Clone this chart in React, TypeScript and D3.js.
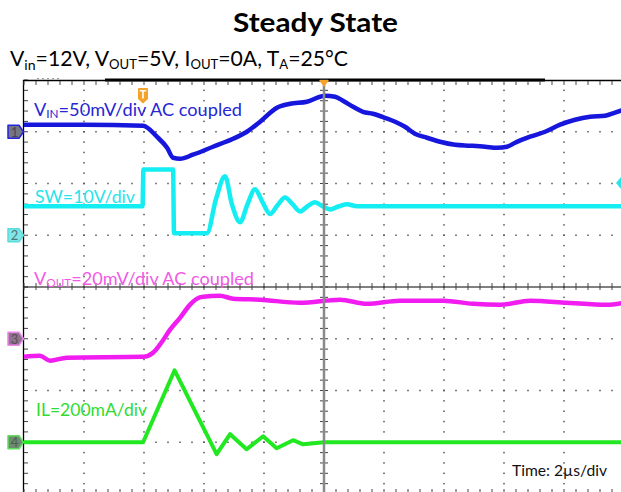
import React from "react";
import * as d3 from "d3";

const W = 621;
const H = 492;

const TITLE = "Steady State";
const TIME_LABEL = "Time: 2µs/div";

// Channel 1 — VIN, 50 mV/div AC coupled (time in µs from trigger, value in mV)
const vinTime = [-10, -8, -6.03, -5.57, -5.23, -5.03, -4.8, -4.37, -3.7, -3.03, -2.57, -2.13, -1.57, -1.13, -0.57, -0.13, 0.03, 0.37, 0.63, 0.97, 1.3, 1.63, 2.03, 2.37, 2.7, 3.03, 3.43, 3.87, 4.37, 4.87, 5.37, 5.77, 6.1, 6.37, 6.87, 7.37, 7.87, 8.37, 8.87, 9.37, 9.7, 10];
const vinMv = [6.8, 6.8, 5.8, -4.8, -15.5, -25.1, -26.1, -22.2, -14.5, -6.8, 0, 9.7, 23.2, 27.0, 29.0, 33.8, 34.8, 33.8, 30.0, 24.2, 19.3, 17.4, 13.5, 9.7, 4.8, -1.9, -5.8, -9.7, -12.6, -13.5, -14.5, -15.5, -14.5, -10.6, -4.8, 0, 6.8, 11.6, 14.5, 15.5, 18.4, 21.3];

// Channel 2 — SW, 10 V/div (V)
const swTime = [-10, -6.05, -6.02, -5.03, -5.0, -3.9, -3.6, -3.3, -3.07, -2.8, -2.55, -2.3, -2.05, -1.8, -1.55, -1.3, -1.05, -0.8, -0.55, -0.3, -0.05, 0.2, 0.5, 0.77, 1.1, 10];
const swV = [5.6, 5.6, 12.7, 12.7, 0.4, 0.4, 7.0, 11.4, 6.0, 2.5, 6.0, 8.9, 6.4, 4.1, 5.8, 7.3, 6.0, 4.6, 5.6, 6.4, 5.6, 5.0, 5.6, 6.0, 5.6, 5.6];

// Channel 3 — VOUT, 20 mV/div AC coupled (mV)
const voutTime = [-10, -9.47, -9.13, -8.57, -6.03, -5.7, -5.47, -5.13, -4.8, -4.47, -4.23, -4.03, -3.47, -3.03, -2.13, -0.8, 0.53, 1.43, 2.53, 3.97, 4.97, 5.87, 6.87, 8.1, 9.43, 10];
const voutMv = [-7.0, -6.6, -8.5, -7.3, -7.0, -5.4, -2.3, 3.5, 8.1, 13.1, 15.5, 16.2, 16.6, 15.5, 15.1, 13.9, 15.1, 13.5, 14.7, 14.7, 13.5, 13.1, 14.7, 13.9, 13.1, 13.9];

// Channel 4 — IL, 200 mA/div (mA)
const ilTime = [-10, -6.03, -4.98, -3.58, -3.13, -2.58, -2.03, -1.58, -1.03, -0.7, 0, 10];
const ilMa = [0, 0, 278, -46, 31, -27, 23, -23, 8, -8, 0, 0];

const FONT = "Lato, 'Open Sans', sans-serif";

export default function App() {
  const x = d3.scaleLinear().domain([-10, 10]).range([24, 624]);
  const yDiv = d3.scaleLinear().domain([-4, 4]).range([494, 80]);

  const channels = [
    { t: vinTime, v: vinMv, perDiv: 50, offset: 3, color: "#1616dc", width: 4.5, curve: d3.curveMonotoneX },
    { t: swTime, v: swV, perDiv: 10, offset: 1, color: "#14eef2", width: 4.5, curve: d3.curveMonotoneX },
    { t: voutTime, v: voutMv, perDiv: 20, offset: -1, color: "#f01cf0", width: 4.5, curve: d3.curveMonotoneX },
    { t: ilTime, v: ilMa, perDiv: 200, offset: -3, color: "#22e822", width: 4, curve: d3.curveLinear },
  ];

  const paths = channels.map((c) => {
    const pts = c.t.map((t, i) => [t, c.v[i]] as [number, number]);
    const line = d3
      .line<[number, number]>()
      .x((d) => x(d[0]))
      .y((d) => yDiv(c.offset + d[1] / c.perDiv))
      .curve(c.curve);
    return line(pts) || "";
  });

  const minorX = d3.range(0, 50.5, 1).map((k) => x(-10 + k * 0.4));
  const minorY = d3.range(0, 40.5, 1).map((k) => yDiv(-4 + k * 0.2));
  const majorXs = d3.range(1, 10).filter((k) => k !== 5).map((k) => x(-10 + 2 * k));
  const majorYs = [-3, -2, -1, 1, 2, 3].map((d) => yDiv(d));

  const dots: JSX.Element[] = [];
  majorXs.forEach((mx, i) =>
    minorY.forEach((my, j) => {
      if (j === 0 || j === minorY.length - 1) return;
      dots.push(<rect key={`v${i}-${j}`} x={mx - 0.75} y={my - 0.75} width={1.5} height={1.5} fill="#555" />);
    })
  );
  majorYs.forEach((my, i) =>
    minorX.forEach((mx, j) => {
      if (j === 0) return;
      dots.push(<rect key={`h${i}-${j}`} x={mx - 0.75} y={my - 0.75} width={1.5} height={1.5} fill="#555" />);
    })
  );

  const cx = x(0);
  const cy = yDiv(0);

  const markers = [
    { n: "1", off: 3, fill: "#767680", stroke: "#2424e0", text: "#45455a" },
    { n: "2", off: 1, fill: "#80e6e8", stroke: "#5adcdc", text: "#4d7778" },
    { n: "3", off: -1, fill: "#8c748c", stroke: "#ee86ee", text: "#5c4c5c" },
    { n: "4", off: -3, fill: "#708a70", stroke: "#5ee05e", text: "#4c5e4c" },
  ];

  return (
    <svg width={W} height={H} style={{ position: "absolute", left: 0, top: 0, background: "#fff" }} fontFamily={FONT}>
      <rect x={0} y={0} width={W} height={H} fill="#fff" />
      {/* Title */}
      <text x={233} y={32} fontSize={27} fontWeight="bold" fill="#000" textLength={165} lengthAdjust="spacingAndGlyphs">
        {TITLE}
      </text>
      <text x={10} y={66} fontSize={21} fill="#000" textLength={338} lengthAdjust="spacingAndGlyphs">
        V<tspan fontSize={14} dy={4}>in</tspan>
        <tspan fontSize={21} dy={-4}>=12V, V</tspan>
        <tspan fontSize={13} dy={3}>OUT</tspan>
        <tspan fontSize={21} dy={-3}>=5V, I</tspan>
        <tspan fontSize={13} dy={3}>OUT</tspan>
        <tspan fontSize={21} dy={-3}>=0A, T</tspan>
        <tspan fontSize={13} dy={3}>A</tspan>
        <tspan fontSize={21} dy={-3}>=25°C</tspan>
      </text>

      {/* graticule */}
      {dots}
      {/* left border */}
      <line x1={23.5} y1={80} x2={23.5} y2={H} stroke="#000" strokeWidth={1.3} />
      {minorY.map((my, i) => (
        <line key={`lt${i}`} x1={24} y1={my} x2={28} y2={my} stroke="#444" strokeWidth={1} />
      ))}
      {/* top border */}
      <line x1={23} y1={80.5} x2={W} y2={80.5} stroke="#000" strokeWidth={1.3} />
      <rect x={105} y={78.5} width={440} height={3} fill="#000" />
      <line x1={37} y1={78.5} x2={62} y2={78.5} stroke="#999" strokeWidth={1} strokeDasharray="2 3" />
      {minorX.map((mx, i) => (
        <line key={`tt${i}`} x1={mx} y1={81} x2={mx} y2={85} stroke="#444" strokeWidth={1} />
      ))}
      {/* bottom ticks */}
      {minorX.map((mx, i) => (
        <line key={`bt${i}`} x1={mx} y1={489} x2={mx} y2={494} stroke="#444" strokeWidth={1} />
      ))}
      {/* centre horizontal */}
      <line x1={24} y1={cy} x2={W} y2={cy} stroke="#000" strokeWidth={1.2} />
      {minorX.map((mx, i) => (
        <line key={`ch${i}`} x1={mx} y1={cy - 4} x2={mx} y2={cy + 3} stroke="#444" strokeWidth={1} />
      ))}
      {/* centre vertical ticks */}
      {minorY.map((my, i) => (
        <line key={`cv${i}`} x1={cx - 4} y1={my} x2={cx + 4} y2={my} stroke="#444" strokeWidth={1} />
      ))}

      {/* labels */}
      <text x={34} y={115.5} fontSize={17} fill="#2626d4" textLength={208} lengthAdjust="spacingAndGlyphs">
        V<tspan fontSize={11} dy={2}>IN</tspan>
        <tspan fontSize={17} dy={-2}>=50mV/div AC coupled</tspan>
      </text>
      <text x={35} y={203} fontSize={17} fill="#26e4ec" textLength={100} lengthAdjust="spacingAndGlyphs">
        SW=10V/div
      </text>
      <text x={34} y={285} fontSize={17} fill="#f25ae6" textLength={220} lengthAdjust="spacingAndGlyphs">
        V<tspan fontSize={11} dy={2}>OUT</tspan>
        <tspan fontSize={17} dy={-2}>=20mV/div AC coupled</tspan>
      </text>
      <text x={36} y={416} fontSize={17} fill="#30dc30" textLength={111} lengthAdjust="spacingAndGlyphs">
        IL=200mA/div
      </text>
      <text x={512} y={476} fontSize={16} fill="#111" textLength={95} lengthAdjust="spacingAndGlyphs">
        {TIME_LABEL}
      </text>

      {/* traces */}
      {paths.map((p, i) => (
        <path key={`p${i}`} d={p} fill="none" stroke={channels[i].color} strokeWidth={channels[i].width} strokeLinejoin="round" />
      ))}

      {/* trigger position line */}
      <line x1={cx} y1={82} x2={cx} y2={H} stroke="#8a8a8a" strokeWidth={2.5} />
      <path d={`M${cx - 5},80 L${cx + 5},80 L${cx},87 Z`} fill="#f5a22a" />

      {/* trigger marker T (icon drawn as shapes) */}
      <path d="M138,89 Q138,88 139,88 L147,88 Q148,88 148,89 L148,99 L143,103.5 L138,99 Z" fill="#f5a22a" />
      <path d="M139.8,90 L146.2,90 L146.2,91.6 L143.8,91.6 L143.8,98.5 L142.2,98.5 L142.2,91.6 L139.8,91.6 Z" fill="#fff" />

      {/* trigger level marker */}
      <path d={`M616,183 L621,177 L626,183 L621,189 Z`} fill="#2ae4ea" />

      {/* channel markers */}
      {markers.map((m) => {
        const my = yDiv(m.off);
        return (
          <g key={`m${m.n}`}>
            <path
              d={`M8,${my - 6.5} L19,${my - 6.5} L23.5,${my} L19,${my + 6.5} L8,${my + 6.5} Z`}
              fill={m.fill}
              stroke={m.stroke}
              strokeWidth={1.5}
              strokeLinejoin="round"
            />
            <text x={14.5} y={my + 5} fontSize={13} fill={m.text} textAnchor="middle" fontFamily={FONT}>
              {m.n}
            </text>
          </g>
        );
      })}
    </svg>
  );
}
